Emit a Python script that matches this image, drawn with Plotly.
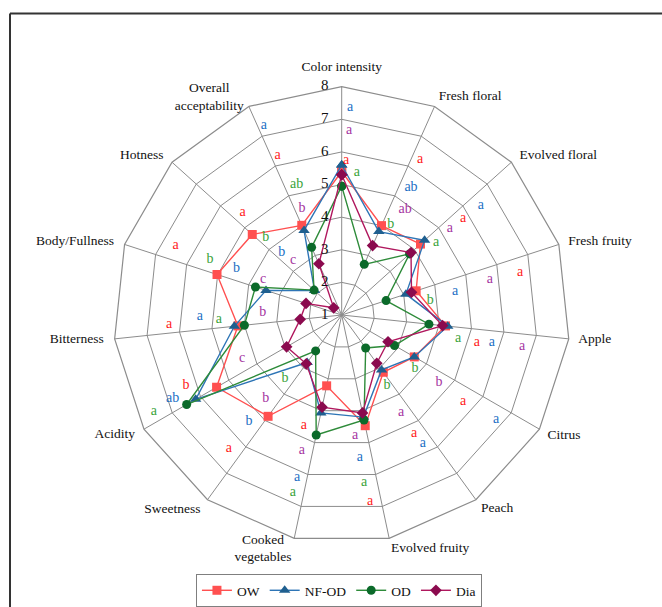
import math
import plotly.graph_objects as go

# Sensory attributes (clockwise from the top)
attributes = [
    "Color intensity", "Fresh floral", "Evolved floral", "Fresh fruity", "Apple",
    "Citrus", "Peach", "Evolved fruity", "Cooked vegetables", "Sweetness",
    "Acidity", "Bitterness", "Body/Fullness", "Hotness", "Overall acceptability",
]
attribute_labels = [
    "Color intensity", "Fresh floral", "Evolved floral", "Fresh fruity", "Apple",
    "Citrus", "Peach", "Evolved fruity", "Cooked<br>vegetables", "Sweetness",
    "Acidity", "Bitterness", "Body/Fullness", "Hotness", "Overall<br>acceptability",
]

# Mean panel scores per treatment
ow = [5.4, 4.0, 4.25, 3.4, 4.2, 3.57, 3.17, 4.47, 3.22, 4.84, 5.43, 4.2, 5.02, 4.69, 4.01]
nf_od = [5.6, 3.8, 4.42, 3.07, 4.27, 3.57, 3.08, 4.2, 4.07, 2.8, 6.17, 4.31, 3.44, 2.12, 3.84]
od = [4.95, 2.7, 3.8, 2.43, 3.69, 2.87, 2.25, 4.29, 4.76, 2.36, 6.49, 4.0, 3.78, 2.14, 3.27]
dia = [5.3, 3.33, 3.86, 3.25, 4.11, 2.64, 2.83, 4.07, 3.89, 2.85, 2.95, 2.28, 2.15, 1.33, 2.72]

# Significance letters per treatment and attribute
letters_ow = ["a", "a", "a", "a", "a", "a", "a", "a", "a", "a", "b", "a", "a", "a", "a"]
letters_nf_od = ["a", "ab", "a", "a", "a", "a", "a", "a", "a", "b", "ab", "a", "b", "b", "a"]
letters_od = ["a", "b", "a", "b", "a", "b", "b", "a", "a", "b", "a", "a", "b", "b", "ab"]
letters_dia = ["a", "ab", "a", "a", "a", "b", "a", "a", "a", "b", "c", "b", "c", "c", "b"]

radial_ticks = [1, 2, 3, 4, 5, 6, 7, 8]

# Where each letter sits: radius (score units) and angle (degrees, clockwise from top)
pos_r_ow = [5.73, 6.33, 5.75, 6.62, 5.23, 5.58, 5.27, 6.77, 4.57, 6.37, 6.25, 6.30, 6.52, 5.37, 6.27]
pos_t_ow = [1.6, 26.8, 51.6, 76.7, 101.3, 125.6, 148.7, 171.3, 198.9, 220.1, 245.5, 267.0, 292.7, 316.0, 338.1]
pos_r_nf = [7.36, 5.44, 6.44, 4.55, 5.68, 6.71, 5.65, 5.39, 6.18, 5.34, 6.79, 5.35, 4.52, 3.65, 7.28]
pos_t_nf = [2.3, 28.6, 51.7, 78.5, 100.2, 124.0, 147.6, 172.7, 195.3, 220.9, 243.6, 269.3, 293.7, 316.1, 337.7]
pos_r_od = [5.38, 4.17, 4.64, 3.75, 4.64, 3.79, 3.58, 6.17, 6.63, 3.60, 7.48, 4.77, 5.38, 4.33, 5.22]
pos_t_od = [6.1, 28.4, 52.6, 80.4, 101.2, 126.4, 147.5, 172.4, 195.4, 222.0, 242.7, 268.1, 292.7, 315.6, 340.9]
pos_r_dia = [6.65, 4.76, 5.24, 5.67, 6.61, 4.64, 4.49, 4.73, 5.32, 4.47, 4.34, 3.42, 3.65, 3.25, 4.49]
pos_t_dia = [2.3, 31.1, 51.5, 76.7, 99.8, 124.9, 148.6, 173.7, 196.4, 222.1, 246.2, 271.7, 294.6, 318.5, 339.6]

# Where each attribute name sits around the web
label_r = [8.58, 8.76, 9.24, 9.23, 8.80, 8.75, 8.62, 8.67, 8.57, 8.90, 8.87, 9.16, 9.48, 8.83, 8.80]
label_t = [0.0, 30.5, 53.7, 74.2, 95.6, 118.4, 141.3, 159.3, 198.6, 221.1, 242.1, 264.6, 285.3, 308.5, 328.6]

SERIF = "Liberation Serif"
GRID = "#8c8c8c"

series = [
    ("OW", ow, "#ff5050", "#ff5050", "square", 9),
    ("NF-OD", nf_od, "#2e75b6", "#1f5f8f", "triangle-up", 10),
    ("OD", od, "#2e8b3a", "#0b6a2a", "circle", 9),
    ("Dia", dia, "#b0185e", "#8b0a4e", "diamond", 9),
]

# Web: centre at (341.7, 315) px, outer ring (score 8) radius 228 px
W, H = 662, 607
cx, cy, R = 341.7, 315.0, 228.3
R_MIN, R_MAX = 1, 8
UNIT = R / (R_MAX - R_MIN)          # px per score unit
xdom = [(cx - R) / W, (cx + R) / W]
ydom = [(H - cy - R) / H, (H - cy + R) / H]

# Text overlay shares the centre and scale but reaches further out
R2_MAX = 9.8
R2 = R * (R2_MAX - R_MIN) / (R_MAX - R_MIN)
xdom2 = [(cx - R2) / W, (cx + R2) / W]
ydom2 = [(H - cy - R2) / H, (H - cy + R2) / H]

fig = go.Figure()

for name, vals, lcol, mcol, sym, size in series:
    fig.add_trace(go.Scatterpolar(
        r=vals + vals[:1],
        theta=attributes + attributes[:1],
        mode="lines+markers",
        name=name,
        line=dict(color=lcol, width=1.4),
        marker=dict(symbol=sym, size=size, color=mcol),
        subplot="polar",
    ))

letter_sets = [
    (letters_ow, pos_r_ow, pos_t_ow, "#ff1a1a"),
    (letters_nf_od, pos_r_nf, pos_t_nf, "#1a6fc4"),
    (letters_od, pos_r_od, pos_t_od, "#3aa33a"),
    (letters_dia, pos_r_dia, pos_t_dia, "#a5349f"),
]
for txt, rr, tt, col in letter_sets:
    fig.add_trace(go.Scatterpolar(
        r=rr, theta=tt, text=txt, mode="text",
        textfont=dict(family=SERIF, size=14, color=col),
        showlegend=False, hoverinfo="skip",
        subplot="polar2",
    ))

# Attribute names
fig.add_trace(go.Scatterpolar(
    r=label_r, theta=label_t, text=attribute_labels, mode="text",
    textfont=dict(family=SERIF, size=13.5, color="#111"),
    showlegend=False, hoverinfo="skip",
    subplot="polar2",
))

# Scale numbers: set 17 px to the left of the vertical spoke, level with each ring
TICK_GAP = 17.0
tick_r, tick_t = [], []
for v in radial_ticks:
    d = (v - R_MIN) * UNIT
    tick_r.append(R_MIN + math.hypot(TICK_GAP, d) / UNIT)
    tick_t.append(360.0 - math.degrees(math.atan2(TICK_GAP, d)))
fig.add_trace(go.Scatterpolar(
    r=tick_r, theta=tick_t, text=[str(v) for v in radial_ticks], mode="text",
    textfont=dict(family=SERIF, size=15, color="#111"),
    showlegend=False, hoverinfo="skip",
    subplot="polar2",
))

fig.update_layout(
    width=W, height=H,
    margin=dict(l=0, r=0, t=0, b=0),
    paper_bgcolor="white",
    font=dict(family=SERIF, size=14, color="#111"),
    polar=dict(
        domain=dict(x=xdom, y=ydom),
        bgcolor="white",
        gridshape="linear",
        angularaxis=dict(
            rotation=90, direction="clockwise",
            showticklabels=False,
            showline=True, linecolor=GRID, linewidth=1.2,
            showgrid=True, gridcolor=GRID, gridwidth=1.2,
            ticks="",
        ),
        radialaxis=dict(
            range=[R_MIN, R_MAX], tickvals=radial_ticks,
            angle=90, showticklabels=False,
            showline=False, ticks="",
            showgrid=True, gridcolor=GRID, gridwidth=1.2,
        ),
    ),
    polar2=dict(
        domain=dict(x=xdom2, y=ydom2),
        bgcolor="rgba(0,0,0,0)",
        angularaxis=dict(
            type="linear", thetaunit="degrees",
            rotation=90, direction="clockwise",
            visible=False, showgrid=False, showline=False,
        ),
        radialaxis=dict(range=[R_MIN, R2_MAX], visible=False, showgrid=False, showline=False),
    ),
    legend=dict(
        orientation="h",
        x=0.512, xanchor="center",
        y=0.0, yanchor="bottom",
        bordercolor="#7f7f7f", borderwidth=1,
        font=dict(family=SERIF, size=13.5, color="#111"),
        itemwidth=30,
        tracegroupgap=0,
    ),
    shapes=[
        dict(type="line", xref="paper", yref="paper",
             x0=10 / W, x1=1.0, y0=1 - 13.5 / H, y1=1 - 13.5 / H,
             line=dict(color="#333", width=2)),
        dict(type="line", xref="paper", yref="paper",
             x0=10 / W, x1=10 / W, y0=0.0, y1=1 - 13.5 / H,
             line=dict(color="#333", width=2)),
    ],
)

fig.write_html("out.html")
